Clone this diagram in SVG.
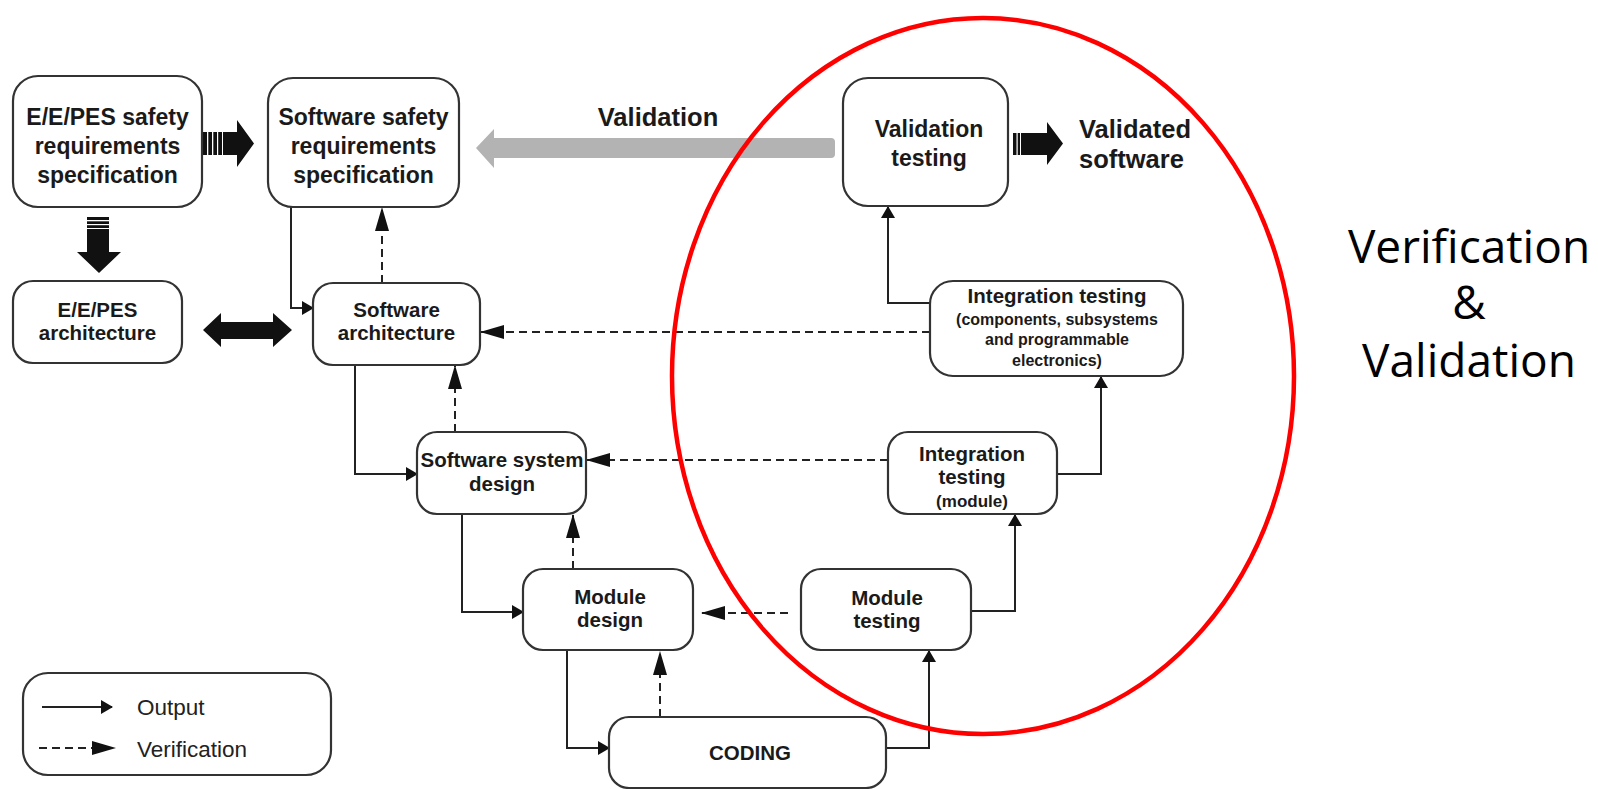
<svg xmlns="http://www.w3.org/2000/svg" width="1598" height="789" viewBox="0 0 1598 789">
  <defs>
    <style>
      .box { fill: #fff; stroke: #333; stroke-width: 2.2; }
      .t { font-family: "Liberation Sans", Arial, sans-serif; font-weight: bold; fill: #1a1a1a; text-anchor: middle; }
      .big { font-size: 23px; }
      .mid { font-size: 20.5px; }
      .small { font-size: 16px; }
      .out { fill: none; stroke: #222; stroke-width: 2; marker-end: url(#ho); }
      .ver { fill: none; stroke: #222; stroke-width: 2; stroke-dasharray: 8 5; marker-end: url(#hv); }
      .blk { fill: #111; }
      .gap { fill: #fff; }
      .leg { font-family: "Liberation Sans", Arial, sans-serif; font-size: 22.5px; fill: #222; }
      .vv { font-family: "Open Sans", "Noto Sans", sans-serif; font-size: 46px; fill: #000; text-anchor: middle; }
    </style>
    <!-- output arrowhead: short filled triangle -->
    <marker id="ho" markerUnits="userSpaceOnUse" viewBox="0 0 12 14" markerWidth="12" markerHeight="14" refX="11" refY="7" orient="auto">
      <path d="M0,0 L12,7 L0,14 Z" fill="#111"/>
    </marker>
    <!-- verification arrowhead: long narrow triangle -->
    <marker id="hv" markerUnits="userSpaceOnUse" viewBox="0 0 24 14" markerWidth="24" markerHeight="14" refX="23" refY="7" orient="auto">
      <path d="M0,0 L24,7 L0,14 Z" fill="#111"/>
    </marker>
  </defs>

  <rect width="1598" height="789" fill="#fff"/>

  <!-- block arrows -->
  <g id="block-arrows">
    <!-- E/E/PES safety spec to software safety spec -->
    <polygon class="blk" points="203,132 237,132 237,120 254,143.5 237,167 237,155 203,155"/>
    <rect class="gap" x="207" y="132" width="1.3" height="23"/>
    <rect class="gap" x="212" y="132" width="1.3" height="23"/>
    <rect class="gap" x="217" y="132" width="1.2" height="23"/>
    <rect class="gap" x="222" y="132" width="1" height="23"/>
    <!-- E/E/PES safety spec down to E/E/PES architecture -->
    <polygon class="blk" points="87,217 109,217 109,252 121,252 99,273 77,252 87,252"/>
    <rect class="gap" x="87" y="220" width="22" height="1.3"/>
    <rect class="gap" x="87" y="224" width="22" height="1.2"/>
    <rect class="gap" x="87" y="228" width="22" height="1"/>
    <!-- two-way arrow between architectures -->
    <polygon class="blk" points="203,330 221,313 221,322 273,322 273,313 292,330 273,347 273,339 221,339 221,347"/>
    <!-- validation testing to validated software -->
    <polygon class="blk" points="1013,133 1047,133 1047,122 1063,143.5 1047,165 1047,155 1013,155"/>
    <rect class="gap" x="1016.5" y="133" width="1.2" height="22"/>
    <rect class="gap" x="1020" y="133" width="1" height="22"/>
    <!-- validation feedback -->
    <path d="M476,148 L494,129 L494,138 L831,138 Q835,138 835,142 L835,154 Q835,158 831,158 L494,158 L494,168 Z" fill="#b3b3b3"/>
  </g>

  <!-- connectors -->
  <g id="connectors">
    <path class="out" d="M291,207 V308 H313"/>
    <path class="out" d="M355,365 V474 H417"/>
    <path class="out" d="M462,514 V612 H523"/>
    <path class="out" d="M567,650 V748 H609"/>
    <path class="out" d="M886,748 H929 V651"/>
    <path class="out" d="M971,611 H1015 V515"/>
    <path class="out" d="M1057,474 H1101 V377"/>
    <path class="out" d="M930,303 H888 V207"/>

    <path class="ver" d="M382,283 V208"/>
    <path class="ver" d="M455,432 V366"/>
    <path class="ver" d="M573,569 V515"/>
    <path class="ver" d="M660,717 V652"/>
    <path class="ver" d="M930,332 H481"/>
    <path class="ver" d="M888,460 H587"/>
    <path class="ver" d="M788,613 H702"/>
  </g>

  <g id="ee-pes-safety-spec">
    <rect class="box" x="13" y="76" width="189" height="131" rx="25"/>
    <text class="t big" x="107.5" y="125">E/E/PES safety</text>
    <text class="t big" x="107.5" y="154">requirements</text>
    <text class="t big" x="107.5" y="183">specification</text>
  </g>

  <g id="sw-safety-spec">
    <rect class="box" x="268" y="78" width="191" height="129" rx="25"/>
    <text class="t big" x="363.5" y="125">Software safety</text>
    <text class="t big" x="363.5" y="154">requirements</text>
    <text class="t big" x="363.5" y="183">specification</text>
  </g>

  <g id="ee-pes-architecture">
    <rect class="box" x="13" y="281" width="169" height="82" rx="20"/>
    <text class="t mid" x="97.5" y="317">E/E/PES</text>
    <text class="t mid" x="97.5" y="340">architecture</text>
  </g>

  <g id="sw-architecture">
    <rect class="box" x="313" y="283" width="167" height="82" rx="20"/>
    <text class="t mid" x="396.5" y="317">Software</text>
    <text class="t mid" x="396.5" y="340">architecture</text>
  </g>

  <g id="sw-system-design">
    <rect class="box" x="417" y="432" width="169" height="82" rx="20"/>
    <text class="t mid" x="502" y="467">Software system</text>
    <text class="t mid" x="502" y="491">design</text>
  </g>

  <g id="module-design">
    <rect class="box" x="523" y="569" width="170" height="81" rx="20"/>
    <text class="t mid" x="610" y="604">Module</text>
    <text class="t mid" x="610" y="627">design</text>
  </g>

  <g id="coding">
    <rect class="box" x="609" y="717" width="277" height="71" rx="20"/>
    <text class="t mid" x="750" y="760">CODING</text>
  </g>

  <g id="module-testing">
    <rect class="box" x="801" y="569" width="170" height="81" rx="20"/>
    <text class="t mid" x="887" y="605">Module</text>
    <text class="t mid" x="887" y="628">testing</text>
  </g>

  <g id="integration-testing-module">
    <rect class="box" x="888" y="432" width="169" height="82" rx="20"/>
    <text class="t mid" x="972" y="461">Integration</text>
    <text class="t mid" x="972" y="484">testing</text>
    <text class="t" font-size="17" x="972" y="507">(module)</text>
  </g>

  <g id="integration-testing-components">
    <rect class="box" x="930" y="281" width="253" height="95" rx="23"/>
    <text class="t mid" x="1057" y="303">Integration testing</text>
    <text class="t small" x="1057" y="325">(components, subsystems</text>
    <text class="t small" x="1057" y="345">and programmable</text>
    <text class="t small" x="1057" y="366">electronics)</text>
  </g>

  <g id="validation-testing">
    <rect class="box" x="843" y="78" width="165" height="128" rx="25"/>
    <text class="t big" x="929" y="137">Validation</text>
    <text class="t big" x="929" y="166">testing</text>
  </g>

  <g id="validated-software">
    <text class="t" font-size="25.5" text-anchor="start" style="text-anchor:start" x="1079" y="138">Validated</text>
    <text class="t" font-size="25.5" style="text-anchor:start" x="1079" y="168">software</text>
  </g>

  <g id="validation-label">
    <text class="t" font-size="25.5" x="658" y="126">Validation</text>
  </g>

  <g id="legend">
    <rect class="box" x="23" y="673" width="308" height="102" rx="25"/>
    <path class="out" d="M42,707 H112"/>
    <path class="ver" d="M39,748 H115"/>
    <text class="leg" x="137" y="715">Output</text>
    <text class="leg" x="137" y="757">Verification</text>
  </g>

  <!-- highlight of the verification and validation side -->
  <ellipse cx="983" cy="376" rx="311" ry="358" fill="none" stroke="#ff0000" stroke-width="4.5"/>

  <g id="vv-caption">
    <text class="vv" x="1469" y="263">Verification</text>
    <text class="vv" x="1469" y="319">&amp;</text>
    <text class="vv" x="1469" y="377">Validation</text>
  </g>
</svg>
